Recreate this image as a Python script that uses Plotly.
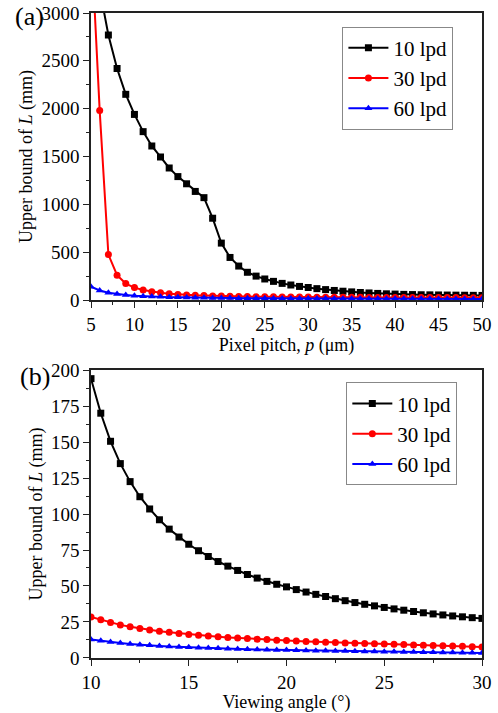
import plotly.graph_objects as go

# ---------------- Data: panel (a) ----------------
pitch = list(range(5, 51))
a_10lpd = [3900, 3250, 2770, 2420, 2150, 1940, 1760, 1610, 1495, 1380,
           1290, 1215, 1135, 1070, 855, 595, 445, 355, 290, 250,
           220, 195, 174, 157, 142, 131, 119, 109, 100, 92,
           85, 79, 74, 69, 65, 62, 59, 57, 55, 54,
           53, 52, 51, 50, 49, 48]
a_30lpd = [3800, 1980, 475, 260, 172, 130, 105, 87, 75, 65,
           58, 53, 49, 46, 43, 41, 39, 37, 36, 35,
           34, 33, 32, 31.5, 31, 30.5, 30, 29.5, 29, 28.5,
           28, 27.8, 27.5, 27.2, 27, 26.8, 26.5, 26.2, 26, 25.8,
           25.6, 25.4, 25.2, 25, 24.8, 24.6]
a_60lpd = [140, 100, 76, 62, 52, 45, 40, 36, 33, 30,
           28, 26, 24.5, 23, 22, 21, 20, 19.3, 18.7, 18.1,
           17.6, 17.1, 16.7, 16.3, 15.9, 15.5, 15.2, 14.9, 14.6, 14.3,
           14, 13.8, 13.5, 13.3, 13.1, 12.9, 12.7, 12.5, 12.3, 12.1,
           12, 11.8, 11.6, 11.5, 11.3, 11.2]

# ---------------- Data: panel (b) ----------------
angle = [10 + 0.5 * i for i in range(41)]
b_10lpd = [194, 170, 150.5, 135, 122.5, 112, 103.5, 96, 89.5, 84,
           79, 74.5, 70.5, 67, 63.8, 60.8, 58, 55.5, 53.2, 51.2,
           49.4, 47.5, 45.8, 44.2, 42.7, 41.2, 39.8, 38.5, 37.3, 36.2,
           35.1, 34.1, 33.2, 32.3, 31.4, 30.6, 29.9, 29.2, 28.6, 28.0, 27.5]
b_30lpd = [28.5, 26.5, 24.6, 23.0, 21.7, 20.5, 19.5, 18.6, 17.8, 17.1,
           16.4, 15.8, 15.3, 14.8, 14.3, 13.9, 13.5, 13.1, 12.8, 12.4,
           12.1, 11.8, 11.5, 11.2, 11.0, 10.7, 10.5, 10.3, 10.1, 9.9,
           9.7, 9.5, 9.3, 9.1, 8.9, 8.7, 8.5, 8.3, 8.1, 7.9, 7.7]
b_60lpd = [12.8, 11.9, 11.1, 10.4, 9.8, 9.2, 8.8, 8.4, 8.0, 7.7,
           7.4, 7.1, 6.9, 6.7, 6.4, 6.3, 6.1, 5.9, 5.8, 5.6,
           5.5, 5.3, 5.2, 5.1, 5.0, 4.9, 4.8, 4.7, 4.6, 4.5,
           4.4, 4.3, 4.2, 4.1, 4.0, 3.95, 3.85, 3.75, 3.65, 3.6, 3.5]

series_names = ["10 lpd", "30 lpd", "60 lpd"]
colors = ["#000000", "#ff0000", "#0000ff"]
symbols = ["square", "circle", "triangle-up"]

FONT = "Liberation Serif, serif"
TICK_SIZE = 19
TITLE_SIZE = 18
LEGEND_SIZE = 21

fig = go.Figure()

for ys, name, c, s in zip([a_10lpd, a_30lpd, a_60lpd], series_names, colors, symbols):
    fig.add_trace(go.Scatter(
        x=pitch, y=ys, name=name, mode="lines+markers",
        line=dict(color=c, width=2),
        marker=dict(symbol=s, size=7, color=c),
        xaxis="x", yaxis="y", legend="legend"))

for ys, name, c, s in zip([b_10lpd, b_30lpd, b_60lpd], series_names, colors, symbols):
    fig.add_trace(go.Scatter(
        x=angle, y=ys, name=name, mode="lines+markers",
        line=dict(color=c, width=2),
        marker=dict(symbol=s, size=7, color=c),
        xaxis="x2", yaxis="y2", legend="legend2"))

axis_common = dict(
    showline=True, linecolor="#222222", linewidth=1.5, mirror=True,
    ticks="outside", ticklen=6, tickwidth=1.2, tickcolor="#222222",
    showgrid=False, zeroline=False, automargin=False,
    tickfont=dict(family=FONT, size=TICK_SIZE, color="black"),
)
minor_common = dict(ticks="outside", ticklen=3, tickcolor="#222222", tickwidth=1)

fig.update_layout(
    width=498, height=713,
    margin=dict(l=91, r=15.5, t=13, b=55),
    paper_bgcolor="white", plot_bgcolor="white",
    font=dict(family=FONT, color="black"),
    showlegend=True,
    xaxis=dict(axis_common, domain=[0, 1], anchor="y", range=[5, 50],
               tickmode="array", tickvals=list(range(5, 51, 5)),
               minor=dict(minor_common, dtick=2.5, tick0=5),
               title=dict(text="Pixel pitch, <i>p</i> (μm)", font=dict(family=FONT, size=TITLE_SIZE), standoff=3)),
    yaxis=dict(axis_common, domain=[0.555, 1], anchor="x", range=[0, 3000],
               tickmode="array", tickvals=list(range(0, 3001, 500)),
               minor=dict(minor_common, dtick=250, tick0=0),
               title=dict(text="Upper bound of <i>L</i> (mm)", font=dict(family=FONT, size=TITLE_SIZE), standoff=4)),
    xaxis2=dict(axis_common, domain=[0, 1], anchor="y2", range=[10, 30],
                tickmode="array", tickvals=list(range(10, 31, 5)),
                minor=dict(minor_common, dtick=2.5, tick0=10),
                title=dict(text="Viewing angle (°)", font=dict(family=FONT, size=TITLE_SIZE), standoff=3)),
    yaxis2=dict(axis_common, domain=[0, 0.4465], anchor="x2", range=[0, 200],
                tickmode="array", tickvals=list(range(0, 201, 25)),
                minor=dict(minor_common, dtick=12.5, tick0=0),
                title=dict(text="Upper bound of <i>L</i> (mm)", font=dict(family=FONT, size=TITLE_SIZE), standoff=4)),
    legend=dict(x=0.643, y=0.979, xanchor="left", yanchor="top",
                bordercolor="#888888", borderwidth=1, bgcolor="white",
                font=dict(family=FONT, size=LEGEND_SIZE), tracegroupgap=0,
                itemwidth=40),
    legend2=dict(x=0.653, y=0.4274, xanchor="left", yanchor="top",
                 bordercolor="#888888", borderwidth=1, bgcolor="white",
                 font=dict(family=FONT, size=LEGEND_SIZE), tracegroupgap=0,
                 itemwidth=40),
    annotations=[
        dict(text="(a)", xref="paper", yref="paper", x=-0.199, y=0.995,
             xanchor="left", yanchor="middle", showarrow=False,
             font=dict(family=FONT, size=26)),
        dict(text="(b)", xref="paper", yref="paper", x=-0.186, y=0.436,
             xanchor="left", yanchor="middle", showarrow=False,
             font=dict(family=FONT, size=26)),
    ],
)

fig.write_html("out.html", config={"displayModeBar": False},
               post_script="document.body.style.margin='0';")
